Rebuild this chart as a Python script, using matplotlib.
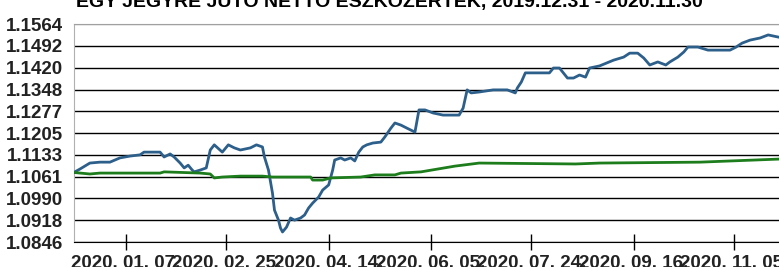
import numpy as np
import pandas as pd
import matplotlib.pyplot as plt

plt.rcParams['font.family'] = ['Liberation Sans', 'DejaVu Sans']

# x values are positions on the chart's session axis,
# 0 = 2020-01-01 on that scale; the axis is not a calendar axis
blue_pos = [-20, -17, -12, -7, -2, 3, 8, 13, 15, 20, 23, 25, 28, 30, 33, 35, 37, 39, 40,
            43, 46, 48, 50, 54, 57, 60, 63, 68, 71, 74, 75, 77, 79, 80, 82, 83, 84, 86,
            88, 90, 93, 95, 97, 99, 102, 104, 107, 109, 110, 113, 115, 118, 120, 122,
            124, 126, 129, 133, 135, 138, 140, 143, 146, 150, 152, 155, 159, 164, 172,
            174, 176, 178, 182, 189, 196, 200, 201, 203, 205, 217, 219, 222, 226, 229,
            232, 235, 237, 242, 249, 254, 257, 261, 264, 267, 271, 275, 277, 281, 284,
            286, 291, 296, 307, 310, 313, 317, 322, 326, 331]
blue_vals = [1.1075, 1.1086, 1.1106, 1.1109, 1.1109, 1.1123, 1.1129, 1.1133, 1.1142, 1.1142,
             1.1142, 1.1126, 1.1136, 1.1126, 1.1106, 1.1090, 1.1099, 1.1083, 1.1077,
             1.1083, 1.1090, 1.1149, 1.1166, 1.1142, 1.1166, 1.1156, 1.1149, 1.1156,
             1.1166, 1.1159, 1.1126, 1.1083, 1.1007, 1.0951, 1.0918, 1.0892, 1.0879,
             1.0895, 1.0925, 1.0918, 1.0925, 1.0935, 1.0958, 1.0974, 1.0994, 1.1017,
             1.1034, 1.1083, 1.1116, 1.1123, 1.1116, 1.1123, 1.1113, 1.1142, 1.1159,
             1.1166, 1.1172, 1.1175, 1.1192, 1.1221, 1.1238, 1.1231, 1.1221, 1.1208,
             1.1281, 1.1281, 1.1271, 1.1264, 1.1264, 1.1287, 1.1347, 1.1337, 1.1340,
             1.1347, 1.1347, 1.1337, 1.1353, 1.1373, 1.1403, 1.1403, 1.1419, 1.1419,
             1.1386, 1.1386, 1.1396, 1.1389, 1.1419, 1.1426, 1.1445, 1.1455, 1.1468,
             1.1468, 1.1452, 1.1429, 1.1439, 1.1429, 1.1439, 1.1455, 1.1472, 1.1488,
             1.1488, 1.1478, 1.1478, 1.1488, 1.1501, 1.1511, 1.1518, 1.1528, 1.1521]

green_pos = [-20, -12, -7, 23, 25, 43, 48, 50, 54, 63, 74, 79, 98, 99, 104, 108, 123, 130,
             140, 143, 153, 170, 182, 230, 242, 292, 331]
green_vals = [1.1075, 1.1070, 1.1073, 1.1073, 1.1077, 1.1073, 1.1070, 1.1057, 1.1060, 1.1063,
              1.1063, 1.1060, 1.1060, 1.1050, 1.1050, 1.1057, 1.1060, 1.1067, 1.1067, 1.1073,
              1.1077, 1.1096, 1.1106, 1.1103, 1.1106, 1.1109, 1.1119]

tick_pos = [6, 56, 107, 158, 208, 259, 309]
tick_labels = ['2020. 01. 07.', '2020. 02. 25.', '2020. 04. 14.', '2020. 06. 05.',
               '2020. 07. 24.', '2020. 09. 16.', '2020. 11. 05.']
y_ticks = [1.0846, 1.0918, 1.0990, 1.1061, 1.1133, 1.1205, 1.1277, 1.1348, 1.1420,
           1.1492, 1.1564]

title = 'EGY JEGYRE JUTÓ NETTÓ ESZKÖZÉRTÉK, 2019.12.31 - 2020.11.30'

fig = plt.figure(figsize=(7.79, 2.67), dpi=100)
ax = fig.add_axes([74 / 779, 25 / 267, 705 / 779, 218 / 267])

ax.plot(blue_pos, blue_vals, color='#2d5f8b', lw=2.0, zorder=3)
ax.plot(green_pos, green_vals, color='#1d7d1d', lw=2.0, zorder=3)

ax.set_xlim(-19.9, 331.4)
ax.set_ylim(y_ticks[0], y_ticks[-1])

ax.set_yticks(y_ticks)
ax.set_yticklabels([f'{v:.4f}' for v in y_ticks], fontsize=13.5, fontweight='bold',
                   color='#222222')
ax.tick_params(axis='y', length=0, pad=8)
ax.yaxis.grid(True, color='black', lw=1.0)
ax.get_ygridlines()[-1].set_color('#a0a0a0')

ax.set_xticks(tick_pos)
ax.set_xticklabels(tick_labels, fontsize=13.5, fontweight='bold', color='#222222')
ax.tick_params(axis='x', direction='inout', length=11, width=1, pad=4)

ax.spines['right'].set_visible(False)
ax.spines['top'].set_color('#a0a0a0')
ax.spines['left'].set_color('#b0b0b0')
ax.spines['bottom'].set_color('black')

fig.text(0.5, 1 - 6.5 / 267, title, ha='center', va='baseline', fontsize=14,
         fontweight='bold', color='black')

fig.savefig('out.png', dpi=100)
